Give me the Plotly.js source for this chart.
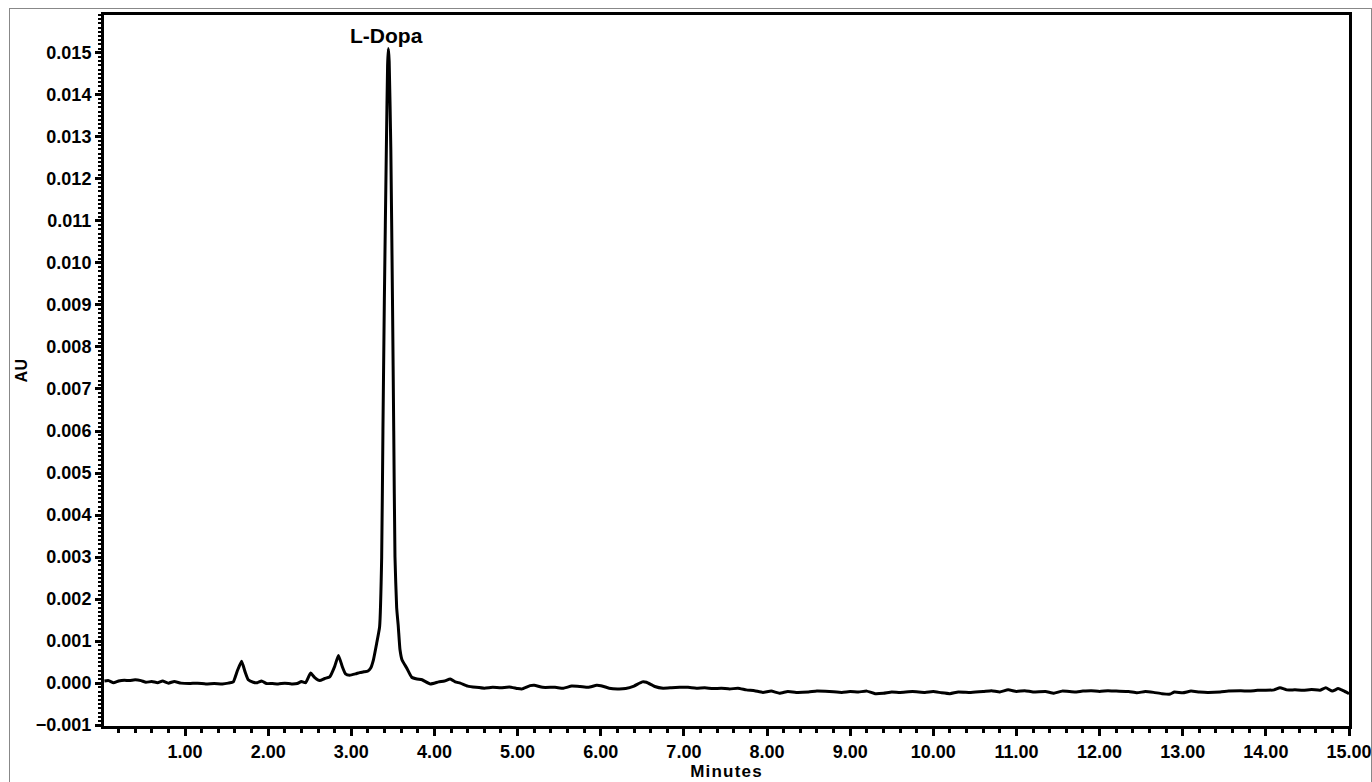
<!DOCTYPE html>
<html>
<head>
<meta charset="utf-8">
<script src="https://cdn.plot.ly/plotly-3.0.1.min.js"></script>
<style>
html,body{margin:0;padding:0;background:#fff;overflow:hidden;}
#chart{width:1372px;height:782px;}
#frame{position:absolute;left:9px;top:8px;width:1361px;height:800px;border:1px solid #888;border-bottom:none;pointer-events:none;}
.g-xtitle text{letter-spacing:1.2px;}
.g-ytitle text{letter-spacing:0.5px;}
</style>
</head>
<body>
<div id="chart"></div>
<div id="frame"></div>
<script>
// Retention time (minutes)
const timeMin = [
 0.03,0.08,0.14,0.20,0.27,0.33,0.40,0.47,0.53,0.60,0.67,0.73,0.80,0.87,0.95,
 1.05,1.15,1.25,1.35,1.45,1.52,1.58,1.63,1.68,1.72,1.76,1.82,1.87,1.92,1.98,
 2.05,2.12,2.20,2.28,2.35,2.40,2.45,2.51,2.56,2.62,2.68,2.74,2.80,2.845,2.89,
 2.93,2.98,3.05,3.10,3.15,3.20,3.233,3.265,3.305,3.34,3.365,3.38,3.397,3.421,3.436,
 3.445,3.455,3.475,3.495,3.51,3.525,3.545,3.565,3.585,3.61,3.666,3.726,3.79,3.85,3.95,
 4.05,4.12,4.19,4.25,4.31,4.40,4.50,4.60,4.70,4.80,4.90,5.00,5.05,5.15,5.20,
 5.30,5.45,5.55,5.65,5.75,5.85,5.95,6.00,6.10,6.20,6.30,6.40,6.50,6.55,6.65,
 6.75,6.85,6.95,7.05,7.15,7.25,7.35,7.45,7.55,7.65,7.75,7.85,7.95,8.05,8.15,
 8.25,8.35,8.50,8.60,8.75,8.90,9.00,9.10,9.20,9.30,9.40,9.50,9.60,9.75,9.90,
 10.00,10.10,10.20,10.30,10.45,10.60,10.70,10.80,10.90,11.00,11.10,11.20,11.35,11.45,11.55,
 11.70,11.80,11.90,12.00,12.10,12.20,12.35,12.45,12.55,12.65,12.75,12.85,12.90,13.00,13.10,
 13.20,13.30,13.45,13.55,13.70,13.80,13.90,14.00,14.10,14.17,14.25,14.35,14.45,14.55,14.65,
 14.72,14.80,14.87,14.93,15.00
];
// Absorbance (AU)
const absorbanceAU = [
 0.00005,0.00006,0.00001,0.00005,0.00007,0.00006,0.00008,0.00006,0.00002,0.00004,0.00001,0.00005,0.00000,0.00004,0.00000,
 -0.00001,0.00000,-0.00002,-0.00001,-0.00002,0.00000,0.00003,0.00030,0.00052,0.00028,0.00008,0.00002,0.00001,0.00005,-0.00001,
 -0.00001,-0.00002,0.00000,-0.00002,-0.00001,0.00004,0.00001,0.00024,0.00013,0.00006,0.00011,0.00015,0.00040,0.00066,0.00040,
 0.00022,0.00019,0.00022,0.00025,0.00027,0.00029,0.00036,0.00055,0.00095,0.00134,0.00300,0.00600,0.00910,0.01270,0.01470,
 0.01510,0.01480,0.01270,0.00910,0.00600,0.00300,0.00180,0.00134,0.00080,0.00055,0.00036,0.00014,0.00010,0.00008,-0.00002,
 0.00003,0.00005,0.00010,0.00003,0.00000,-0.00007,-0.00010,-0.00012,-0.00010,-0.00011,-0.00009,-0.00013,-0.00014,-0.00006,-0.00005,
 -0.00010,-0.00010,-0.00012,-0.00007,-0.00008,-0.00010,-0.00005,-0.00006,-0.00012,-0.00014,-0.00013,-0.00007,0.00003,0.00002,-0.00008,
 -0.00012,-0.00011,-0.00010,-0.00010,-0.00012,-0.00011,-0.00013,-0.00012,-0.00014,-0.00012,-0.00016,-0.00018,-0.00022,-0.00019,-0.00024,
 -0.00020,-0.00022,-0.00021,-0.00019,-0.00020,-0.00022,-0.00020,-0.00021,-0.00019,-0.00025,-0.00024,-0.00021,-0.00022,-0.00020,-0.00022,
 -0.00020,-0.00023,-0.00025,-0.00021,-0.00022,-0.00020,-0.00018,-0.00021,-0.00016,-0.00020,-0.00018,-0.00021,-0.00020,-0.00024,-0.00019,
 -0.00021,-0.00019,-0.00018,-0.00020,-0.00018,-0.00019,-0.00020,-0.00023,-0.00020,-0.00022,-0.00025,-0.00026,-0.00021,-0.00023,-0.00019,
 -0.00021,-0.00022,-0.00021,-0.00019,-0.00018,-0.00019,-0.00017,-0.00017,-0.00016,-0.00011,-0.00016,-0.00016,-0.00017,-0.00015,-0.00017,
 -0.00011,-0.00019,-0.00013,-0.00018,-0.00025
];
// Peak label
const peakName = ["L-Dopa"];
const peakTime = [3.445];
const peakHeight = [0.0151];
// Axis ticks
const xTickVals = [1,2,3,4,5,6,7,8,9,10,11,12,13,14,15];
const xTickText = ["1.00","2.00","3.00","4.00","5.00","6.00","7.00","8.00","9.00","10.00","11.00","12.00","13.00","14.00","15.00"];

const FONT = "Liberation Sans, Arial, sans-serif";

const trace = {
  x: timeMin, y: absorbanceAU, type: "scatter", mode: "lines",
  line: {color: "#000", width: 3, shape: "spline", smoothing: 0.4},
  hoverinfo: "x+y"
};

const layout = {
  width: 1372, height: 782,
  margin: {l: 104, r: 23, t: 15, b: 56},
  paper_bgcolor: "#fff", plot_bgcolor: "#fff",
  showlegend: false,
  font: {family: FONT, color: "#000", size: 18, weight: "bold"},
  xaxis: {
    range: [0.025, 15.0],
    tickvals: xTickVals, ticktext: xTickText,
    ticks: "outside", ticklen: 7, tickwidth: 3, tickcolor: "#000",
    minor: {dtick: 0.2, tick0: 0, ticks: "outside", ticklen: 4, tickwidth: 3, tickcolor: "#000"},
    showline: true, linewidth: 3, linecolor: "#000", mirror: true,
    showgrid: false, zeroline: false, automargin: false,
    tickfont: {family: FONT, size: 18, weight: "bold", color: "#000"},
    title: {text: "Minutes", font: {family: FONT, size: 17, weight: "bold", color: "#000"}, standoff: 5}
  },
  yaxis: {
    range: [-0.00102, 0.0159],
    dtick: 0.001, tick0: 0, tickformat: ".3f",
    ticks: "outside", ticklen: 6, tickwidth: 3, tickcolor: "#000",
    minor: {dtick: 0.0001, tick0: 0, ticks: "outside", ticklen: 3, tickwidth: 2, tickcolor: "#000"},
    showline: true, linewidth: 3, linecolor: "#000", mirror: true,
    showgrid: false, zeroline: false, automargin: false,
    tickfont: {family: FONT, size: 18, weight: "bold", color: "#000"},
    title: {text: "AU", font: {family: FONT, size: 16, weight: "bold", color: "#000"}, standoff: 5}
  },
  annotations: peakName.map((n, i) => ({
    x: peakTime[i], y: peakHeight[i], xref: "x", yref: "y",
    text: n, showarrow: false, yanchor: "bottom", yshift: 0, xshift: -2,
    font: {family: FONT, size: 21, weight: "bold", color: "#000"}
  }))
};

Plotly.newPlot("chart", [trace], layout, {displayModeBar: false, staticPlot: true});
</script>
</body>
</html>
